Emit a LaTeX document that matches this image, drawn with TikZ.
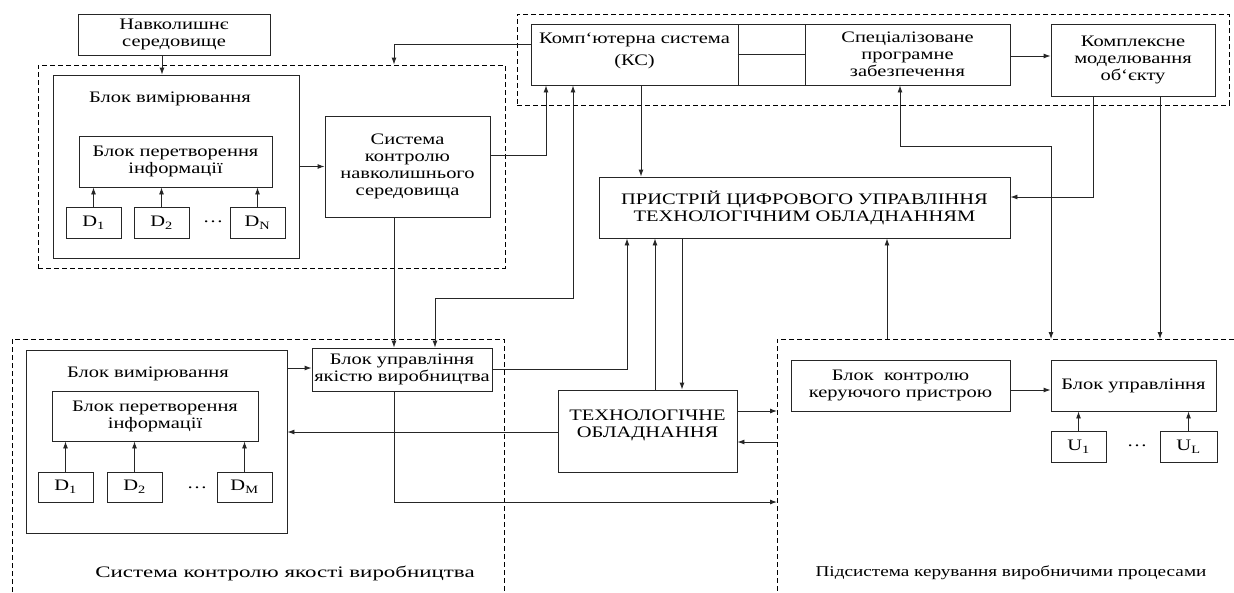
\documentclass[tikz,border=0pt]{standalone}
\usepackage{fontspec}
\setmainfont{Liberation Serif}[FakeStretch=1.28]
\usetikzlibrary{arrows.meta}
\begin{document}
\begin{tikzpicture}[x=1pt,y=-1pt,
  bx/.style 2 args={draw=black!85,line width=0.9pt,minimum width=#1,minimum height=#2,inner sep=0pt,align=center,font=\fontsize{16}{17}\selectfont},
  txt/.style={inner sep=0pt,align=center,font=\fontsize{16}{17}\selectfont},
  ln/.style={line width=0.9pt,draw=black!85},
  arr/.style={-{Latex[length=7pt,width=5pt]}},
  darr/.style={{Latex[length=7pt,width=5pt]}-{Latex[length=7pt,width=5pt]}},
  grp/.style={draw=black,line width=0.9pt,dash pattern=on 5pt off 3pt,inner sep=0pt}]
\useasboundingbox (0,0) rectangle (1234,592);
\fill[white] (0,0) rectangle (1234,592);

% dashed groups
\node[grp,minimum width=467pt,minimum height=203pt] (grp1) at (271.5,166.5) {};
\node[grp,minimum width=712pt,minimum height=91pt] (grp2) at (873,59.5) {};
\coordinate (g3) at (777,339);
\coordinate (g4) at (12,339);
\draw[grp] (1234,339) -- (g3) -- (777,592);
\draw[grp] (12,592) -- (g4) -- (504,339) -- (504,592);

% top-left
\node[bx={192pt}{41pt}] (env) at (174,34.5) {Навколишнє\\середовище};
\node[bx={246pt}{183pt}] (mb1) at (176,166.5) {};
\node[txt] (mb1l) at (170,99) {Блок вимірювання};
\node[bx={193pt}{51pt}] (conv1) at (175.5,161.5) {Блок перетворення\\інформації};
\node[bx={55pt}{31pt}] (d11) at (93.5,222.5) {D\textsubscript{1}};
\node[bx={55pt}{31pt}] (d12) at (161.5,222.5) {D\textsubscript{2}};
\node[bx={55pt}{31pt}] (d1n) at (257.5,222.5) {D\textsubscript{N}};
\node[txt] (dots1) at (213,222) {…};
\node[bx={165pt}{101pt}] (sys) at (407.5,166.5) {Система\\контролю\\навколишнього\\середовища};

% top-right
\node[bx={207pt}{61pt}] (ks) at (634.5,54.5) {};
\node[txt] (ksl) at (634.5,51) {Комп{\char"60}ютерна система\\[5pt](КС)};
\node[bx={67pt}{61pt}] (cell) at (771.5,54.5) {};
\draw[ln] (cell.west) -- (cell.east);
\node[bx={205pt}{61pt}] (spz) at (907.5,54.5) {Спеціалізоване\\програмне\\забезпечення};
\node[bx={164pt}{72pt}] (km) at (1133,60) {Комплексне\\моделювання\\об{\char"60}єкту};

% center
\node[bx={411pt}{61pt}] (pcu) at (804.5,207.5) {ПРИСТРІЙ ЦИФРОВОГО УПРАВЛІННЯ\\ТЕХНОЛОГІЧНИМ ОБЛАДНАННЯМ};
\node[bx={179pt}{82pt}] (tech) at (647.5,431) {};
\node[txt] (techl) at (647.5,425.5) {ТЕХНОЛОГІЧНЕ\\ОБЛАДНАННЯ};

% bottom-left
\node[bx={261pt}{183pt}] (mb2) at (156.5,441.5) {};
\node[txt] (mb2l) at (148,374) {Блок вимірювання};
\node[bx={206pt}{50pt}] (conv2) at (155,416) {Блок перетворення\\інформації};
\node[bx={55pt}{30pt}] (d21) at (65.5,487) {D\textsubscript{1}};
\node[bx={55pt}{30pt}] (d22) at (134.5,487) {D\textsubscript{2}};
\node[bx={55pt}{30pt}] (d2m) at (244.5,487) {D\textsubscript{M}};
\node[txt] (dots2) at (197,488) {…};
\node[bx={180pt}{43pt}] (qual) at (402,369.5) {Блок управління\\якістю виробництва};
\node[txt,xscale=1.12,transform shape] (cap1) at (285,573) {Система контролю якості виробництва};

% bottom-right
\node[bx={219pt}{51pt}] (bk) at (900.5,385.5) {Блок\ \ контролю\\керуючого пристрою};
\node[bx={165pt}{51pt}] (bu) at (1133.5,385.5) {Блок управління};
\node[bx={55pt}{31pt}] (u1) at (1078.5,446.5) {U\textsubscript{1}};
\node[bx={57pt}{31pt}] (ul) at (1188.5,446.5) {U\textsubscript{L}};
\node[txt] (dots3) at (1137,446) {…};
\node[txt,font=\fontsize{15}{17}\selectfont] (cap2) at (1011,573) {Підсистема керування виробничими процесами};

% connectors
\draw[ln,arr] (env.south -| 162,0) -- (mb1.north -| 162,0);
\foreach \d in {d11,d12,d1n}{\draw[ln,arr] (\d.north) -- (\d.north |- conv1.south);}
\foreach \d in {d21,d22,d2m}{\draw[ln,arr] (\d.north) -- (\d.north |- conv2.south);}
\foreach \d in {u1,ul}{\draw[ln,arr] (\d.north) -- (\d.north |- bu.south);}
\draw[ln,arr] (mb1.east) -- (sys.west |- mb1.east);
\draw[ln,arr] (sys.east |- 0,155) -| (ks.south -| 546,0);
\draw[ln,arr] (ks.west |- 0,44) -| (grp1.north -| 394,0);
\draw[ln,arr] (ks.south -| 641,0) -- (pcu.north -| 641,0);
\draw[ln,darr] (ks.south -| 573,0) -- (573,298) -| (qual.north -| 435,0);
\draw[ln,arr] (spz.east |- 0,56) -- (km.west |- 0,56);
\draw[ln,darr] (spz.south -| 900,0) -- (900,146) -| (g3 -| 1051,0);
\draw[ln,arr] (km.south -| 1093,0) |- (pcu.east |- 0,197);
\draw[ln,arr] (km.south -| 1160,0) -- (g3 -| 1160,0);
\draw[ln,arr] (g3 -| 887,0) -- (pcu.south -| 887,0);
\draw[ln,arr] (qual.east |- 0,369) -| (pcu.south -| 627,0);
\draw[ln,arr] (tech.north -| 655,0) -- (pcu.south -| 655,0);
\draw[ln,arr] (pcu.south -| 682,0) -- (tech.north -| 682,0);
\draw[ln,arr] (mb2.east |- 0,368) -- (qual.west |- 0,368);
\draw[ln,arr] (tech.west |- 0,432) -- (mb2.east |- 0,432);
\draw[ln,arr] (qual.south -| 394,0) |- (g3 |- 0,502);
\draw[ln,arr] (tech.east |- 0,411) -- (g3 |- 0,411);
\draw[ln,arr] (g3 |- 0,442) -- (tech.east |- 0,442);
\draw[ln,arr] (bk.east |- 0,390) -- (bu.west |- 0,390);
\draw[ln,arr] (sys.south -| 394,0) -- (qual.north -| 394,0);
\end{tikzpicture}
\end{document}
